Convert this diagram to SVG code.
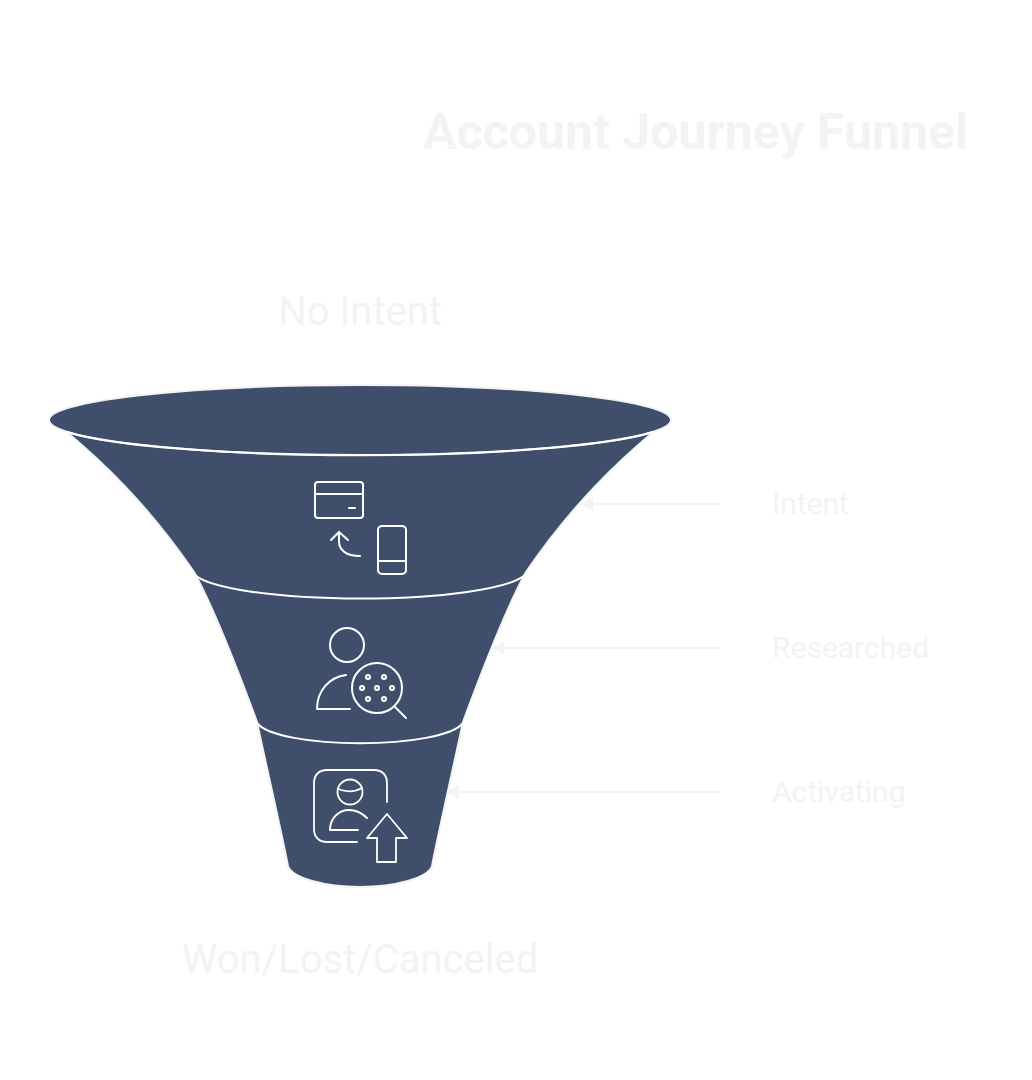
<svg xmlns="http://www.w3.org/2000/svg" width="1032" height="1080" viewBox="0 0 1032 1080">
<style>
text{font-family:Roboto,"Liberation Sans",sans-serif;fill:#f3f3f3}
.t{font-size:50px;font-weight:700}
.b{font-size:40px;text-anchor:middle}
.l{font-size:30px}
.f{fill:#3f4f6b;stroke:#f3f3f3;stroke-width:2}
.s{fill:none;stroke:#fff;stroke-width:2;stroke-linecap:round;stroke-linejoin:round}
.i{fill:none;stroke:#fff;stroke-width:2;stroke-linecap:round;stroke-linejoin:round}
.j{fill:none;stroke:#fff;stroke-width:1.8;stroke-linecap:round;stroke-linejoin:round}
.c{fill:none;stroke:#f3f3f3;stroke-width:2}
</style>
<defs><marker id="a" markerUnits="userSpaceOnUse" markerWidth="12" markerHeight="14" refX="12" refY="7" orient="auto"><path d="M0 0L12 7L0 14Z" fill="#f3f3f3"/></marker></defs>
<g id="title"><text class="t" x="423" y="149">Account Journey Funnel</text></g>
<g id="funnel">
<path class="f" d="M62 428C103 462 148 505 194 572C212 605 236 665 257 722C266 765 280 825 288 866C292 878 325 887 360 887C395 887 428 878 432 866C440 825 454 765 463 722C484 665 508 605 526 572C572 505 617 462 658 428Z"/>
<ellipse class="f" cx="360" cy="420" rx="311" ry="35"/>
<path class="s" d="M67 432A311 35 0 0 0 653 432"/>
<path class="s" d="M195 575A168 29 0 0 0 525 575"/>
<path class="s" d="M258 724A104 24 0 0 0 462 724"/>
</g>
<g id="top-label"><text class="b" x="360" y="325">No Intent</text></g>
<g id="bottom-label"><text class="b" x="360" y="973">Won/Lost/Canceled</text></g>
<g id="intent-icon">
<rect class="i" x="315" y="482" width="48" height="36" rx="3"/>
<path class="i" d="M315 494H363M349 508H355"/>
<rect class="i" x="378" y="526" width="28" height="48" rx="4"/>
<path class="i" d="M378 561H406"/>
<path class="i" d="M331 540L339 532L348 540M339 532V541C339 550 346 556 360 556"/>
</g>
<g id="researched-icon">
<circle class="i" cx="347" cy="645" r="17"/>
<path class="i" d="M346 675C330 677 317 690 317 709H350"/>
<circle class="i" cx="377" cy="688" r="25"/>
<path class="i" d="M395 707L406 718"/>
<circle class="i" cx="368" cy="677" r="2"/><circle class="i" cx="384" cy="677" r="2"/>
<circle class="i" cx="362" cy="688" r="2"/><circle class="i" cx="377" cy="688" r="2"/><circle class="i" cx="392" cy="688" r="2"/>
<circle class="i" cx="368" cy="699" r="2"/><circle class="i" cx="384" cy="699" r="2"/>
</g>
<g id="activating-icon">
<path class="j" d="M387 802V783C387 775 382 770 374 770H327C319 770 314 775 314 783V829C314 837 319 842 327 842H357"/>
<circle class="j" cx="350" cy="792" r="12.5"/>
<path class="j" d="M338 789C346 792 355 792 362 788"/>
<path class="j" d="M330 830C330 818 339 810 349 810C356 810 363 814 367 818M330 830H358"/>
<path class="j" d="M387 814L407 838H396V862H377V838H367Z"/>
</g>
<g id="connectors">
<path class="c" d="M720 504H581" marker-end="url(#a)"/>
<path class="c" d="M720 648H492" marker-end="url(#a)"/>
<path class="c" d="M720 792H447" marker-end="url(#a)"/>
</g>
<g id="label-intent"><text class="l" x="772" y="514">Intent</text></g>
<g id="label-researched"><text class="l" x="772" y="658">Researched</text></g>
<g id="label-activating"><text class="l" x="772" y="802">Activating</text></g>
</svg>
